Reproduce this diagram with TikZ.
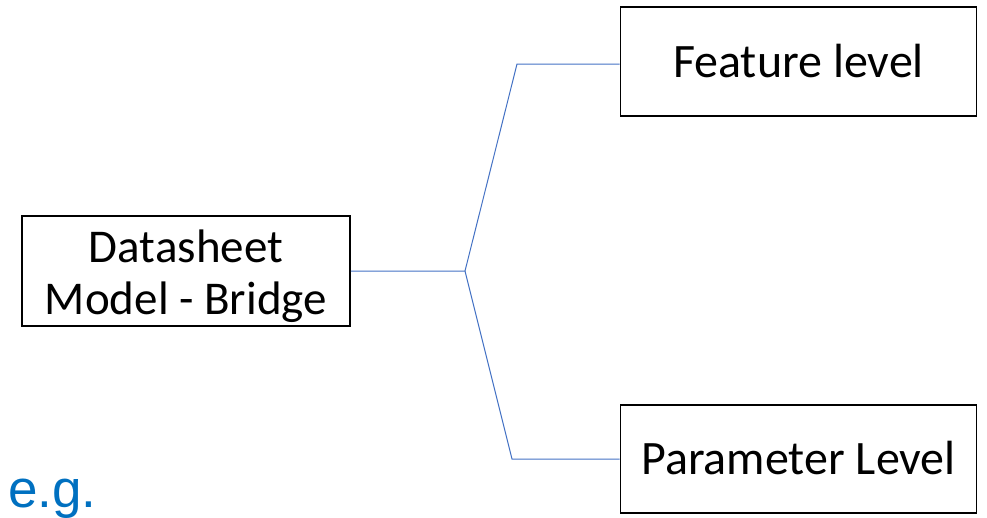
\documentclass[tikz,border=0pt]{standalone}
\usepackage{fontspec}
\setmainfont{Carlito}
\newfontfamily\egfont{Liberation Sans}
\definecolor{linkblue}{RGB}{68,114,196}
\definecolor{egblue}{RGB}{0,112,192}
\begin{document}
\begin{tikzpicture}[x=1pt,y=-1pt,
  box/.style={draw=black,line width=1.6pt,minimum width=#1,inner sep=0pt,align=center,text depth=0pt},
  link/.style={draw=linkblue,line width=1pt}]
\useasboundingbox (0,0) rectangle (987,517);
\node[box=328pt,minimum height=110pt,text height=86pt,font=\fontsize{47}{52}\selectfont] (src) at (186,271) {Datasheet\\Model - Bridge};
\node[box=356pt,minimum height=109pt,text height=31pt,font=\fontsize{48}{55}\selectfont] (feat) at (798.5,61.5) {Feature level};
\node[box=356pt,minimum height=108pt,text height=31pt,font=\fontsize{48}{55}\selectfont] (param) at (798.5,459) {Parameter Level};
\coordinate (j) at (465,271);
\coordinate (bt) at (517,64);
\coordinate (bb) at (512,459);
\draw[link] (src.east) -- (j) -- (bt) -- (bt -| feat.west);
\draw[link] (j) -- (bb) -- (bb -| param.west);
\node[anchor=base west,inner sep=0pt,text=egblue,font=\egfont\fontsize{53}{60}\selectfont] (eg) at (8,507) {e.g.};
\end{tikzpicture}
\end{document}
